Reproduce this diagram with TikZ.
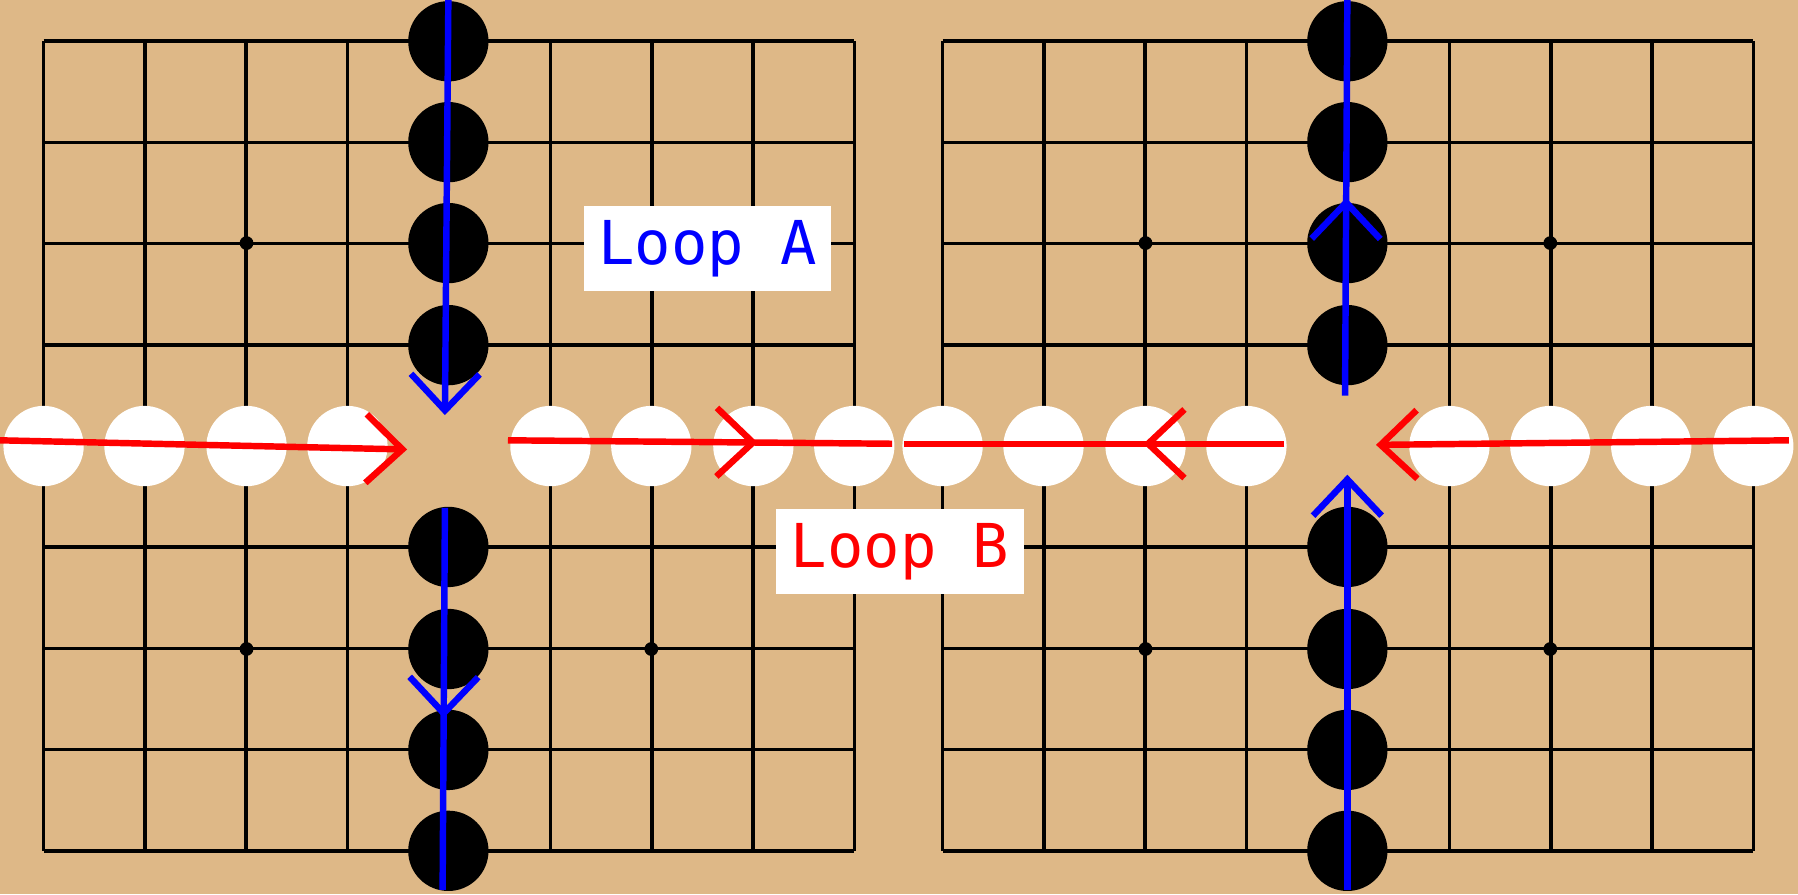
\documentclass[tikz,border=0pt]{standalone}
\usepackage{fontspec}
\newfontfamily\loopfont{DejaVu Sans Mono}
\usetikzlibrary{arrows.meta,decorations.markings}
\definecolor{board}{HTML}{DEB887}
\begin{document}
\begin{tikzpicture}[x=0.01cm, y=-0.01cm, >={Straight Barb[length=9pt, width=17pt, line width=1.6pt]}]
    \tikzstyle{black_stone} = [circle, fill=black, minimum size=0.7cm, inner sep=0]
    \tikzstyle{white_stone} = [circle, fill=white, minimum size=0.7cm, inner sep=0]
    \tikzstyle{star} = [circle, fill=black, minimum size=0.12cm, inner sep=0]
    \tikzstyle{grid_line} = [black, line width=0.9pt]
    \tikzstyle{blue_arrow} = [blue, line width=1.6pt]
    \tikzstyle{red_arrow} = [red, line width=1.6pt]
    \tikzstyle{mid_arrow} = [postaction={decorate}, decoration={markings, mark=at position #1 with {\arrow{>}}}]
    \tikzstyle{label_box} = [fill=white, font=\loopfont\fontsize{15}{18}\selectfont, minimum width=2.16cm, minimum height=0.74cm]

    \fill[board] (0,0) rectangle (1568,780);
    \useasboundingbox (0,0) rectangle (1568,780);

    % the two boards, middle lines left open
    \foreach \ox in {38, 822} {
        \foreach \i in {0,1,2,3,5,6,7,8} {
            \draw[grid_line] (\ox+88.4*\i,36) -- (\ox+88.4*\i,742);
            \draw[grid_line] (\ox,36+88.25*\i) -- (\ox+707,36+88.25*\i);
        }
    }
    \foreach \sx/\sy [count=\k] in {215/212, 215/566, 568/566, 999/212, 1352/212, 999/566, 1352/566}
        \node[star] (s\k) at (\sx,\sy) {};

    % stones
    \foreach \sy [count=\k] in {36, 124, 212, 301, 477, 566, 654, 742} {
        \node[black_stone] (bl\k) at (391,\sy) {};
        \node[black_stone] (br\k) at (1175,\sy) {};
    }
    \foreach \sx [count=\k] in {38, 126, 215, 303, 480, 568, 657, 745, 822, 910, 999, 1087, 1264, 1352, 1440, 1529}
        \node[white_stone] (w\k) at (\sx,389) {};

    % loop ends
    \coordinate (aT) at (391,0);     \coordinate (aM) at (388,362);
    \coordinate (aN) at (388,443);   \coordinate (aB) at (386,776);
    \coordinate (cB) at (1175,776);  \coordinate (cM) at (1175,414);
    \coordinate (cN) at (1173,345);  \coordinate (cT) at (1175,0);
    \coordinate (rA) at (0,384);     \coordinate (rB) at (355,392);
    \coordinate (rC) at (443,384);   \coordinate (rD) at (778,387);
    \coordinate (rE) at (788,387);   \coordinate (rF) at (1120,387);
    \coordinate (rG) at (1560,384);  \coordinate (rH) at (1200,388);

    \draw[blue_arrow, ->] (aT) -- (aM);
    \draw[blue_arrow, mid_arrow=0.55] (aN) -- (aB);
    \draw[blue_arrow, ->] (cB) -- (cM);
    \draw[blue_arrow, mid_arrow=0.5] (cN) -- (cT);
    \draw[red_arrow, ->] (rA) -- (rB);
    \draw[red_arrow, mid_arrow=0.65] (rC) -- (rD);
    \draw[red_arrow, mid_arrow=0.37] (rF) -- (rE);
    \draw[red_arrow, ->] (rG) -- (rH);

    \node[label_box, text=blue] (loopA) at (617,217) {Loop A};
    \node[label_box, text=red] (loopB) at (785,481) {Loop B};
\end{tikzpicture}
\end{document}
